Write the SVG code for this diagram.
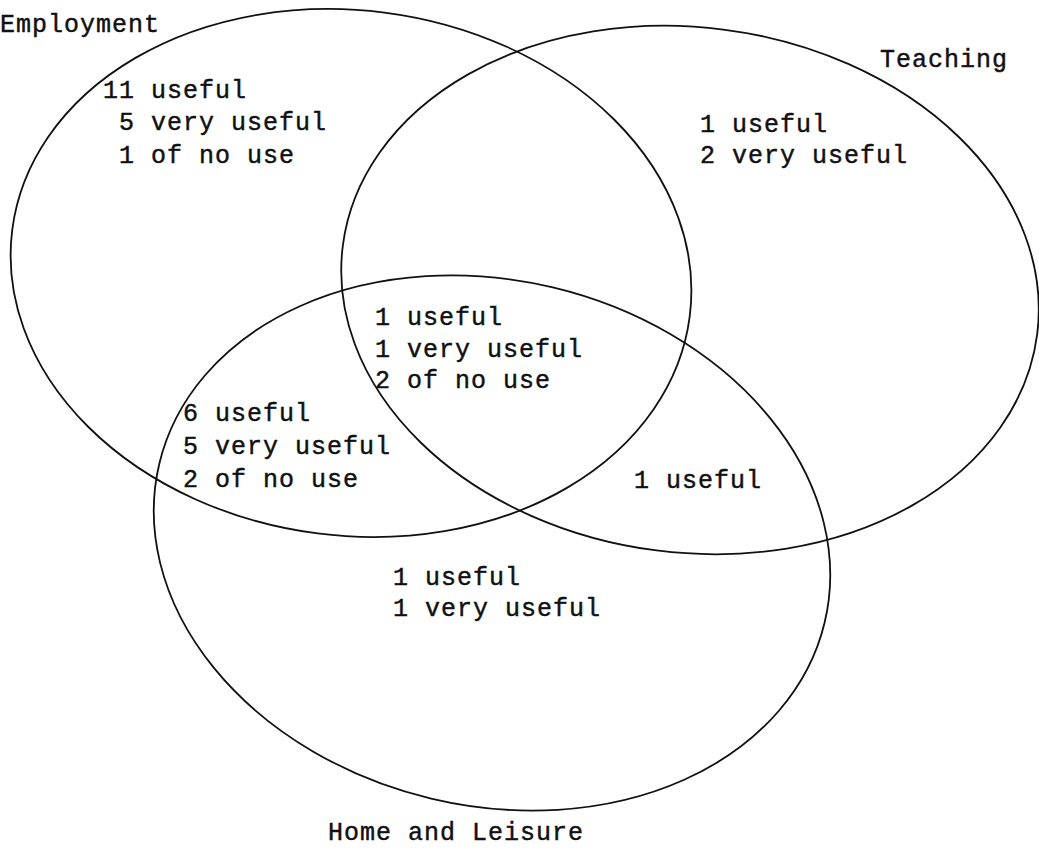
<svg xmlns="http://www.w3.org/2000/svg" width="1039" height="848" viewBox="0 0 1039 848">
<style>
.set{fill:none;stroke:#111;stroke-width:1.8}
.t{font-family:"Liberation Mono","DejaVu Sans Mono",monospace;font-size:25px;letter-spacing:1px;fill:#111;stroke:#111;stroke-width:0.45}
</style>
<rect width="1039" height="848" fill="#fff"/>
<g id="employment">
<ellipse class="set" cx="351" cy="273" rx="341.5" ry="262.6" transform="rotate(7.3 351 273)"/>
<text class="t" x="0" y="32">Employment</text>
</g>
<g id="teaching">
<ellipse class="set" cx="690" cy="290" rx="350" ry="262.6" transform="rotate(7.3 690 290)"/>
<text class="t" x="880" y="67">Teaching</text>
</g>
<g id="home">
<ellipse class="set" cx="492" cy="543" rx="342" ry="262.7" transform="rotate(13.4 492 543)"/>
<text class="t" x="328" y="840">Home and Leisure</text>
</g>
<g id="region-employment-only">
<text class="t" x="103" y="98">11 useful</text>
<text class="t" x="119" y="130">5 very useful</text>
<text class="t" x="119" y="163">1 of no use</text>
</g>
<g id="region-teaching-only">
<text class="t" x="700" y="132">1 useful</text>
<text class="t" x="700" y="163">2 very useful</text>
</g>
<g id="region-all">
<text class="t" x="375" y="325">1 useful</text>
<text class="t" x="375" y="357">1 very useful</text>
<text class="t" x="375" y="388">2 of no use</text>
</g>
<g id="region-employment-home">
<text class="t" x="183" y="421">6 useful</text>
<text class="t" x="183" y="454">5 very useful</text>
<text class="t" x="183" y="487">2 of no use</text>
</g>
<g id="region-teaching-home">
<text class="t" x="634" y="488">1 useful</text>
</g>
<g id="region-home-only">
<text class="t" x="393" y="585">1 useful</text>
<text class="t" x="393" y="616">1 very useful</text>
</g>
</svg>
